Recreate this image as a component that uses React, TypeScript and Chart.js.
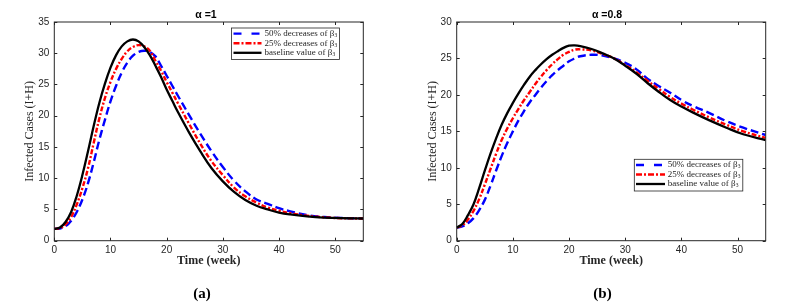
import { useEffect, useRef } from "react";
import { Chart, registerables } from "chart.js";

Chart.register(...registerables);

// ---------- data ----------
const TIME = [0, 1, 2, 3, 4, 5, 6, 7, 8, 9, 10, 11, 12, 13, 14, 15, 16, 17, 18, 19, 20, 21, 22, 24, 26, 28, 30, 32, 34, 36, 38, 40, 42, 45, 48, 51, 55];

// panel (a) alpha = 1
const A_BLUE = [1.9, 1.95, 2.3, 3.2, 4.6, 6.6, 9.2, 12.5, 16.1, 19.3, 22.3, 24.8, 26.9, 28.5, 29.6, 30.2, 30.4, 30.2, 29.5, 28.0, 26.4, 24.8, 23.2, 20.1, 17.1, 14.3, 11.8, 9.6, 7.9, 6.6, 5.9, 5.2, 4.7, 4.1, 3.8, 3.65, 3.55];
const A_RED = [1.9, 2.0, 2.6, 3.8, 5.8, 8.4, 11.6, 15.6, 19.5, 22.8, 25.4, 27.5, 29.1, 30.3, 31.0, 31.3, 31.1, 30.4, 28.8, 27.2, 25.4, 23.7, 22.0, 18.7, 15.5, 12.7, 10.5, 8.5, 7.1, 6.1, 5.3, 4.8, 4.4, 4.0, 3.75, 3.6, 3.55];
const A_BLACK = [1.9, 2.1, 3.0, 4.6, 7.2, 10.5, 14.3, 18.3, 22.0, 25.1, 27.7, 29.7, 31.1, 31.9, 32.2, 31.9, 31.0, 29.7, 28.0, 26.2, 24.2, 22.4, 20.6, 17.3, 14.3, 11.6, 9.5, 7.8, 6.5, 5.6, 5.0, 4.5, 4.2, 3.9, 3.7, 3.6, 3.55];

// panel (b) alpha = 0.8
const B_BLUE = [1.8, 1.95, 2.4, 3.1, 4.2, 5.6, 7.5, 9.6, 11.6, 13.4, 15.0, 16.5, 17.8, 19.0, 20.0, 21.0, 21.9, 22.7, 23.4, 24.0, 24.6, 25.0, 25.3, 25.5, 25.4, 25.0, 24.4, 23.5, 22.2, 21.2, 20.3, 19.3, 18.5, 17.5, 16.4, 15.5, 14.5];
const B_RED = [1.8, 2.1, 2.9, 4.1, 5.7, 7.7, 9.8, 11.9, 13.8, 15.4, 16.8, 18.1, 19.3, 20.4, 21.5, 22.5, 23.4, 24.2, 24.9, 25.5, 25.9, 26.2, 26.25, 26.1, 25.6, 25.0, 24.1, 23.1, 21.9, 20.8, 19.7, 18.8, 18.0, 16.9, 15.9, 15.0, 14.1];
const B_BLACK = [1.8, 2.3, 3.5, 5.0, 7.2, 9.6, 11.9, 14.0, 15.9, 17.5, 18.9, 20.2, 21.4, 22.5, 23.4, 24.2, 24.9, 25.5, 26.0, 26.45, 26.75, 26.8, 26.7, 26.3, 25.7, 25.0, 24.0, 22.9, 21.6, 20.4, 19.3, 18.4, 17.6, 16.5, 15.5, 14.6, 13.8];

const X_TICKS = [0, 10, 20, 30, 40, 50];
const A_Y_TICKS = [0, 5, 10, 15, 20, 25, 30, 35];
const B_Y_TICKS = [0, 5, 10, 15, 20, 25, 30];
const X_MAX = 55;
const A_Y_MAX = 35;
const B_Y_MAX = 30;

const LEGEND_LABELS = ["50% decreases of β", "25% decreases of β", "baseline value of β"];
const LEGEND_SUB = "3";
const TITLES = ["α =1", "α =0.8"];
const CAPTIONS = ["(a)", "(b)"];
const X_TITLE = "Time (week)";
const Y_TITLE = "Infected Cases (I+H)";

// ---------- styles ----------
const AXIS_COLOR = "#262626";
const STYLES = [
  { color: "#0000ff", dash: [8, 4], legendDash: [8, 10], width: 2.4 },
  { color: "#ff0000", dash: [5, 2, 2, 2], legendDash: [6, 2, 2, 2], width: 2.4 },
  { color: "#000000", dash: [] as number[], legendDash: [] as number[], width: 2.3 },
];

type Panel = {
  series: number[][];
  yMax: number;
  yTicks: number[];
  title: string;
  caption: string;
  left: number;
  right: number;
  top: number;
  bottom: number;
  titleX: number;
  captionX: number;
  yTitleX: number;
  legend: { x1: number; x2: number; y1: number; y2: number; rows: number[]; lx1: number; lx2: number; tx: number };
};

const W = 394;
const H = 306;
const X_AXIS_H = 20;

const PANELS: Panel[] = [
  {
    series: [A_BLUE, A_RED, A_BLACK],
    yMax: A_Y_MAX,
    yTicks: A_Y_TICKS,
    title: TITLES[0],
    caption: CAPTIONS[0],
    left: 54.3,
    right: 363.3,
    top: 22,
    bottom: 240.7,
    titleX: 206,
    captionX: 202,
    yTitleX: 30,
    legend: { x1: 231.5, x2: 339.5, y1: 28, y2: 59.5, rows: [33.6, 43.2, 52.8], lx1: 233.5, lx2: 261.5, tx: 264.5 },
  },
  {
    series: [B_BLUE, B_RED, B_BLACK],
    yMax: B_Y_MAX,
    yTicks: B_Y_TICKS,
    title: TITLES[1],
    caption: CAPTIONS[1],
    left: 62.7,
    right: 371.7,
    top: 22,
    bottom: 240.7,
    titleX: 213,
    captionX: 208.5,
    yTitleX: 39.3,
    legend: { x1: 240.3, x2: 348.8, y1: 159.3, y2: 191, rows: [165, 174.5, 184], lx1: 242, lx2: 271, tx: 273.7 },
  },
];

function makeDecor(p: Panel) {
  return {
    id: "decor",
    afterDraw(chart: any) {
      const ctx: CanvasRenderingContext2D = chart.ctx;
      const { left, right, top, bottom } = chart.chartArea;
      const xs = chart.scales.x;
      const ys = chart.scales.y;
      ctx.save();
      // box
      ctx.strokeStyle = AXIS_COLOR;
      ctx.lineWidth = 1;
      ctx.setLineDash([]);
      ctx.strokeRect(left, top, right - left, bottom - top);
      // inward ticks
      const tl = 3;
      ctx.beginPath();
      X_TICKS.forEach((v) => {
        const px = Math.round(xs.getPixelForValue(v)) + 0.5;
        ctx.moveTo(px, bottom);
        ctx.lineTo(px, bottom - tl);
        ctx.moveTo(px, top);
        ctx.lineTo(px, top + tl);
      });
      p.yTicks.forEach((v) => {
        const py = Math.round(ys.getPixelForValue(v)) + 0.5;
        ctx.moveTo(left, py);
        ctx.lineTo(left + tl, py);
        ctx.moveTo(right, py);
        ctx.lineTo(right - tl, py);
      });
      ctx.stroke();

      // title
      ctx.fillStyle = "#000";
      ctx.textAlign = "center";
      ctx.textBaseline = "middle";
      ctx.font = 'bold 10.5px "Liberation Sans"';
      ctx.fillText(p.title, p.titleX, 15);

      // x title
      ctx.fillStyle = AXIS_COLOR;
      ctx.font = 'bold 12px "Liberation Serif"';
      ctx.fillText(X_TITLE, (left + right) / 2, 261);

      // y title
      ctx.save();
      ctx.translate(p.yTitleX, (top + bottom) / 2);
      ctx.rotate(-Math.PI / 2);
      ctx.font = '12px "Liberation Serif"';
      ctx.fillText(Y_TITLE, 0, 0);
      ctx.restore();

      // caption
      ctx.fillStyle = "#000";
      ctx.font = 'bold 15px "Liberation Serif"';
      ctx.fillText(p.caption, p.captionX, 294);

      // legend
      const L = p.legend;
      ctx.fillStyle = "#fff";
      ctx.fillRect(L.x1, L.y1, L.x2 - L.x1, L.y2 - L.y1);
      ctx.strokeStyle = AXIS_COLOR;
      ctx.lineWidth = 0.8;
      ctx.strokeRect(L.x1, L.y1, L.x2 - L.x1, L.y2 - L.y1);
      LEGEND_LABELS.forEach((lab, i) => {
        const s = STYLES[i];
        const y = L.rows[i];
        ctx.beginPath();
        ctx.strokeStyle = s.color;
        ctx.lineWidth = s.width;
        ctx.setLineDash(s.legendDash);
        ctx.moveTo(L.lx1, y);
        ctx.lineTo(L.lx2, y);
        ctx.stroke();
        ctx.setLineDash([]);
        ctx.fillStyle = AXIS_COLOR;
        ctx.textAlign = "left";
        ctx.font = '9px "Liberation Serif"';
        ctx.fillText(lab, L.tx, y);
        const w = ctx.measureText(lab).width;
        ctx.font = '5.5px "Liberation Serif"';
        ctx.fillText(LEGEND_SUB, L.tx + w + 0.3, y + 2);
      });
      ctx.restore();
    },
  };
}

function PanelChart({ p, offset }: { p: Panel; offset: number }) {
  const ref = useRef<HTMLCanvasElement | null>(null);
  useEffect(() => {
    if (!ref.current) return;
    const order = [2, 1, 0]; // black on top
    const datasets = order.map((i) => ({
      label: LEGEND_LABELS[i],
      data: TIME.map((t, k) => ({ x: t, y: p.series[i][k] })),
      borderColor: STYLES[i].color,
      borderWidth: STYLES[i].width,
      borderDash: STYLES[i].dash,
      pointRadius: 0,
      fill: false,
      tension: 0.4,
    }));
    const tickFont = { family: "Liberation Sans", size: 10 };
    const chart = new Chart(ref.current, {
      type: "line",
      data: { datasets },
      options: {
        animation: false,
        responsive: false,
        maintainAspectRatio: false,
        events: [],
        layout: { padding: { left: 0, top: p.top, right: W - p.right, bottom: H - p.bottom - X_AXIS_H } },
        plugins: { legend: { display: false }, tooltip: { enabled: false }, title: { display: false } },
        scales: {
          x: {
            type: "linear",
            min: 0,
            max: X_MAX,
            afterBuildTicks: (s: any) => {
              s.ticks = X_TICKS.map((v) => ({ value: v }));
            },
            afterFit: (s: any) => {
              s.height = X_AXIS_H;
            },
            grid: { display: false, drawTicks: false },
            border: { display: false },
            ticks: { padding: 4, color: AXIS_COLOR, font: tickFont, maxRotation: 0, autoSkip: false },
          },
          y: {
            type: "linear",
            min: 0,
            max: p.yMax,
            afterBuildTicks: (s: any) => {
              s.ticks = p.yTicks.map((v) => ({ value: v }));
            },
            afterFit: (s: any) => {
              s.width = p.left;
            },
            grid: { display: false, drawTicks: false },
            border: { display: false },
            ticks: { padding: 5, color: AXIS_COLOR, font: tickFont, autoSkip: false },
          },
        },
      },
      plugins: [makeDecor(p)],
    } as any);
    return () => chart.destroy();
  }, [p]);
  return (
    <canvas
      ref={ref}
      width={W}
      height={H}
      style={{ position: "absolute", left: offset, top: 0, width: W, height: H }}
    />
  );
}

export default function App() {
  return (
    <div style={{ position: "fixed", left: 0, top: 0, width: 788, height: 306, background: "#fff", overflow: "hidden" }}>
      <PanelChart p={PANELS[0]} offset={0} />
      <PanelChart p={PANELS[1]} offset={394} />
    </div>
  );
}
